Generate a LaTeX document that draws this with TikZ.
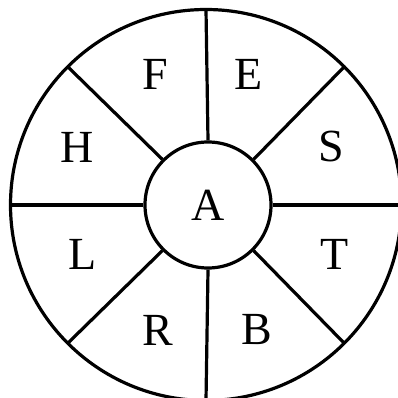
\documentclass[tikz,border=0pt]{standalone}
\usepackage{fontspec}
\setmainfont{Liberation Serif}
\usetikzlibrary{positioning}
\tikzset{
  ring/.style={line width=3.2pt},
  letter/.style={font=\fontsize{46}{46}\selectfont},
}

\begin{document}
\begin{tikzpicture}[x=1pt,y=1pt]
	\useasboundingbox (0,0) rectangle (398,398);
	% hub with the centre letter
	\node[circle,draw,ring,minimum size=126pt,inner sep=0pt,letter] (hub) at (208,193) {A};
	% outer rim
	\coordinate (mid) at (206,193);
	\draw[ring] (mid) circle (195.5pt);
	% spokes
	\foreach \ang in {0,45,...,315}{
		\path (mid) ++(\ang:195.5pt) coordinate (rim\ang);
		\draw[ring] (hub.\ang) -- (rim\ang);
	}
	% sector letters
	\node[letter] (F) at (155,324) {F};
	\node[letter] (E) at (249,324) {E};
	\node[letter] (H) at (77.5,250.5) {H};
	\node[letter] (S) at (331,251) {S};
	\node[letter] (L) at (83,144) {L};
	\node[letter] (T) at (335,144) {T};
	\node[letter] (R) at (158,68) {R};
	\node[letter] (B) at (257,68) {B};
\end{tikzpicture}
\end{document}
